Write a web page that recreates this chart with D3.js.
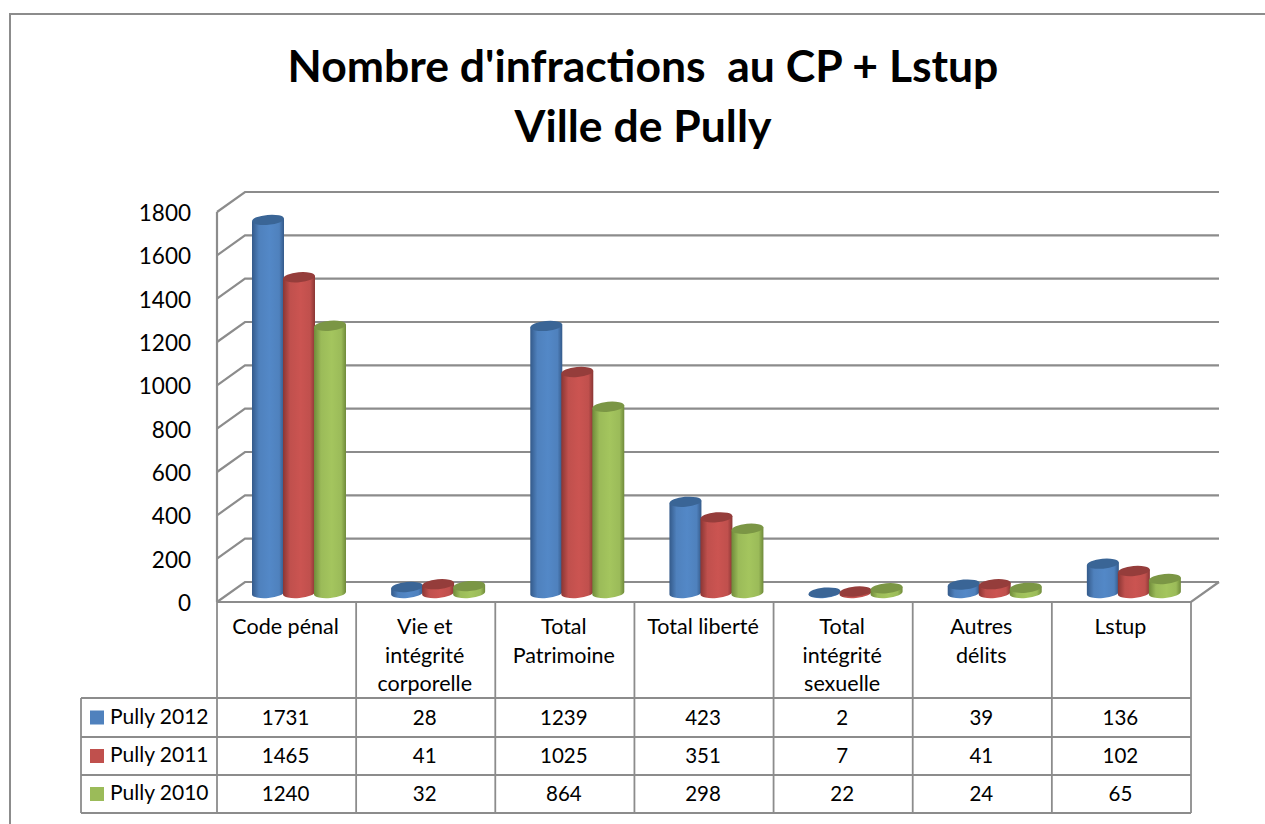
<!DOCTYPE html>
<html>
<head>
<meta charset="utf-8">
<script src="https://cdn.jsdelivr.net/npm/d3@7"></script>
<style>
  html, body { margin: 0; padding: 0; background: #fff; overflow: hidden; }
  text { font-family: Lato, "Open Sans", sans-serif; fill: #000; }
</style>
</head>
<body>
<div id="chart"></div>
<script>
const categories = [["Code pénal"], ["Vie et", "intégrité", "corporelle"], ["Total", "Patrimoine"], ["Total liberté"], ["Total", "intégrité", "sexuelle"], ["Autres", "délits"], ["Lstup"]];
const seriesNames = ["Pully 2012", "Pully 2011", "Pully 2010"];
const pully2012 = [1731, 28, 1239, 423, 2, 39, 136];
const pully2011 = [1465, 41, 1025, 351, 7, 41, 102];
const pully2010 = [1240, 32, 864, 298, 22, 24, 65];
const yTicks = [0, 200, 400, 600, 800, 1000, 1200, 1400, 1600, 1800];
const titleLines = ["Nombre d'infractions  au CP + Lstup", "Ville de Pully"];

const seriesValues = [pully2012, pully2011, pully2010];
const seriesColors = [
  {base: "#4f81bd", dark: "#345a8a", top: "#3a6596"},
  {base: "#c0504d", dark: "#8a3634", top: "#953d3b"},
  {base: "#9bbb59", dark: "#6f8a3a", top: "#7b9645"}
];

const width = 1265, height = 824;
const gray = "#8c8c8c";

const svg = d3.select("#chart").append("svg")
  .attr("width", width).attr("height", height);

// Outer chart frame
svg.append("path")
  .attr("d", "M10,824V14H1265")
  .attr("fill", "none").attr("stroke", gray).attr("stroke-width", 2);

// Title
svg.selectAll(".title").data(titleLines).join("text")
  .attr("class", "title")
  .attr("x", 643)
  .attr("y", (d, i) => 82 + i * 60)
  .attr("text-anchor", "middle")
  .attr("font-size", 44.5)
  .attr("font-weight", 700)
  .style("white-space", "pre")
  .text(d => d);

// Scales: front plane of the 3D box, the back wall is offset from it
const depthX = 28, depthY = -20;
const yFront = d3.scaleLinear().domain([0, 1800]).range([602, 212]);
const frontLeft = 217, frontRight = 1191;
const x0 = d3.scaleBand().domain(d3.range(categories.length)).range([frontLeft, frontRight]);

// Back wall gridlines and left wall
const grid = svg.append("g").attr("fill", "none").attr("stroke", gray).attr("stroke-width", 2.2);
yTicks.forEach(t => {
  const y = yFront(t);
  grid.append("path").attr("d",
    `M${frontLeft},${y}L${frontLeft + depthX},${y + depthY}H${frontRight + depthX}`);
});
grid.append("path").attr("d", `M${frontLeft},${yFront(1800)}V${yFront(0)}`);
grid.append("path").attr("d",
  `M${frontLeft},${yFront(0)}H${frontRight}L${frontRight + depthX},${yFront(0) + depthY}`);

// Y tick labels
svg.selectAll(".ytick").data(yTicks).join("text")
  .attr("class", "ytick")
  .attr("x", 191)
  .attr("y", d => yFront(d) + 9)
  .attr("text-anchor", "end")
  .attr("font-size", 22.5)
  .text(d => d);

// Cylinder gradients
const defs = svg.append("defs");
seriesColors.forEach((c, i) => {
  const g = defs.append("linearGradient").attr("id", `cyl${i}`);
  g.append("stop").attr("offset", "0%").attr("stop-color", c.dark);
  g.append("stop").attr("offset", "22%").attr("stop-color", c.base);
  g.append("stop").attr("offset", "55%").attr("stop-color", d3.color(c.base).brighter(0.15));
  g.append("stop").attr("offset", "85%").attr("stop-color", c.base);
  g.append("stop").attr("offset", "100%").attr("stop-color", c.dark);
});

// Cylinders sit mid-depth in the box, so they get their own height scale
const barWidth = 32, barStep = 31, rx = barWidth / 2, ry = 5;
const yBar = d3.scaleLinear().domain([0, 1800]).range([593, 205]);
const tilt = -5;
const slope = rx * Math.sin(-tilt * Math.PI / 180);
seriesValues.forEach((vals, s) => {
  const c = seriesColors[s];
  vals.forEach((v, i) => {
    const cx = x0(i) + 51 + s * barStep;
    const topY = yBar(v);
    const g = svg.append("g");
    g.append("path")
      .attr("d", `M${cx - rx},${topY + slope}V${yBar(0) + slope}A${rx},${ry} ${tilt} 0 0 ${cx + rx},${yBar(0) - slope}V${topY - slope}Z`)
      .attr("fill", `url(#cyl${s})`);
    g.append("ellipse")
      .attr("cx", cx).attr("cy", topY)
      .attr("rx", rx).attr("ry", ry)
      .attr("transform", `rotate(${tilt},${cx},${topY})`)
      .attr("fill", c.top);
  });
});

// Data table
const rowY = [602, 698, 737, 775, 813];
const legendLeft = 81;
const table = svg.append("g").attr("fill", "none").attr("stroke", gray).attr("stroke-width", 1.8);
const colEdges = d3.range(categories.length + 1).map(i => frontLeft + i * x0.step());
colEdges.forEach(x => {
  table.append("line").attr("x1", x).attr("x2", x).attr("y1", rowY[0]).attr("y2", rowY[4]);
});
rowY.slice(1).forEach(y => {
  table.append("line").attr("x1", legendLeft).attr("x2", frontRight).attr("y1", y).attr("y2", y);
});
table.append("line").attr("x1", legendLeft).attr("x2", legendLeft).attr("y1", rowY[1]).attr("y2", rowY[4]);

// Category labels
categories.forEach((lines, i) => {
  svg.selectAll(`.cat${i}`).data(lines).join("text")
    .attr("class", `cat${i}`)
    .attr("x", x0(i) + x0.step() / 2 - 1)
    .attr("y", (d, j) => 634 + j * 28.5)
    .attr("text-anchor", "middle")
    .attr("font-size", 21.5)
    .text(d => d);
});

// Legend keys and values
seriesValues.forEach((vals, s) => {
  const cy = (rowY[s + 1] + rowY[s + 2]) / 2;
  svg.append("rect").attr("x", 90).attr("y", cy - 7).attr("width", 14).attr("height", 14)
    .attr("fill", seriesColors[s].base);
  svg.append("text").attr("x", 110).attr("y", cy + 6).attr("font-size", 21).text(seriesNames[s]);
  vals.forEach((v, i) => {
    svg.append("text")
      .attr("x", x0(i) + x0.step() / 2 - 1).attr("y", cy + 7)
      .attr("text-anchor", "middle").attr("font-size", 20.5)
      .text(v);
  });
});
</script>
</body>
</html>
